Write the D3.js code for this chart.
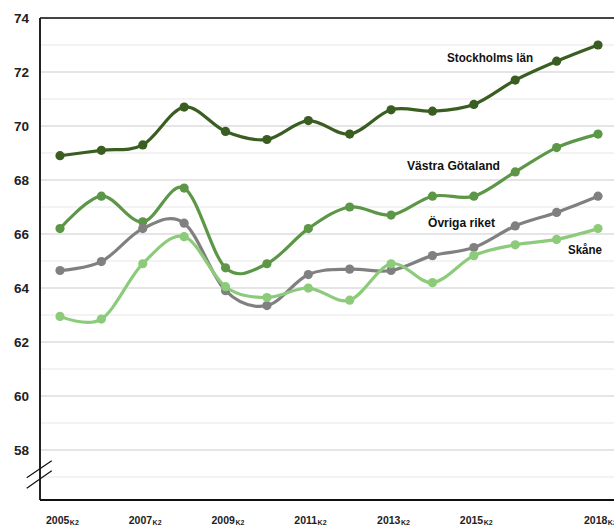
<!DOCTYPE html>
<html><head><meta charset="utf-8">
<script src="https://cdn.jsdelivr.net/npm/d3@7"></script>
<style>html,body{margin:0;padding:0;background:#fff;}svg{display:block;}</style>
</head><body><svg id="c" width="614" height="527"></svg>
<script>
const years = ["2005","2006","2007","2008","2009","2010","2011","2012","2013","2014","2015","2016","2017","2018"];
const tickYears = ["2005","2007","2009","2011","2013","2015","2018"];
const yTicks = [58,60,62,64,66,68,70,72,74];
const stockholm = [68.9,69.1,69.3,70.7,69.8,69.5,70.2,69.7,70.6,70.55,70.8,71.7,72.4,73.0];
const vastra = [66.2,67.4,66.45,67.7,64.75,64.9,66.2,67.0,66.7,67.4,67.4,68.3,69.2,69.7];
const ovriga = [64.65,64.98,66.2,66.4,63.9,63.35,64.5,64.7,64.65,65.2,65.5,66.3,66.8,67.4];
const skane = [62.95,62.85,64.9,65.9,64.05,63.65,64.0,63.55,64.9,64.2,65.2,65.6,65.8,66.2];
const seriesNames = ["Stockholms län","Västra Götaland","Övriga riket","Skåne"];

const series = [
  {name: seriesNames[0], values: stockholm, color: "#3a5e22"},
  {name: seriesNames[1], values: vastra, color: "#5b9746"},
  {name: seriesNames[2], values: ovriga, color: "#808080"},
  {name: seriesNames[3], values: skane, color: "#8ccb79"}
];

const svg = d3.select("#c");
const x = d3.scalePoint().domain(years).range([39.3, 618.7]).padding(0.5);
const y = d3.scaleLinear().domain([56.15, 74]).range([500, 18]);
const font = "'Liberation Sans', Arial, sans-serif";

// gridlines
const grid = d3.range(57, 74, 1);
svg.append("g").selectAll("line").data(grid).join("line")
  .attr("x1", 40).attr("x2", 614)
  .attr("y1", d => y(d)).attr("y2", d => y(d))
  .attr("stroke", d => d % 2 === 0 ? "#dcdcdc" : "#efefef")
  .attr("stroke-width", 1.5);
svg.append("line").attr("x1", 40).attr("x2", 614).attr("y1", y(74)).attr("y2", y(74))
  .attr("stroke", "#444").attr("stroke-width", 2);

// axes lines
svg.append("line").attr("x1", 40).attr("x2", 40).attr("y1", y(74)).attr("y2", 500)
  .attr("stroke", "#222").attr("stroke-width", 2);
svg.append("line").attr("x1", 40).attr("x2", 614).attr("y1", 500).attr("y2", 500)
  .attr("stroke", "#111").attr("stroke-width", 2);

// axis break
[[477.7,460.7],[488.3,470.7]].forEach(p => {
  svg.append("line").attr("x1", 26.7).attr("y1", p[0]).attr("x2", 51.7).attr("y2", p[1])
    .attr("stroke", "#111").attr("stroke-width", 1.2);
});

// y labels
svg.append("g").selectAll("text").data(yTicks).join("text")
  .attr("x", 29).attr("y", d => y(d)).attr("dy", "0.36em")
  .attr("text-anchor", "end")
  .attr("font-family", font).attr("font-weight", "bold").attr("font-size", 13.5)
  .attr("fill", "#222").text(d => d);

// x labels
const xl = svg.append("g").selectAll("text").data(tickYears).join("text")
  .attr("x", d => x(d) - 14).attr("y", 523.5)
  .attr("text-anchor", "start")
  .attr("font-family", font).attr("font-weight", "bold").attr("font-size", 10.5)
  .attr("fill", "#222");
xl.append("tspan").text(d => d);
xl.append("tspan").attr("font-size", 7).attr("dy", 1.5).attr("dx", 0.5).text("K2");

// lines
const line = d3.line().x((d, i) => x(years[i])).y(d => y(d)).curve(d3.curveCardinal.tension(0));
const g = svg.append("g");
series.forEach(s => {
  g.append("path").datum(s.values).attr("d", line)
    .attr("fill", "none").attr("stroke", s.color).attr("stroke-width", 3.2)
    .attr("stroke-linejoin", "round").attr("stroke-linecap", "round");
  g.append("g").selectAll("circle").data(s.values).join("circle")
    .attr("cx", (d, i) => x(years[i])).attr("cy", d => y(d)).attr("r", 4.6)
    .attr("fill", s.color);
});

// series labels
const labelPos = [[447, 57.7],[407, 165],[428, 222.7],[568, 249]];
const labelW = [86, 93, 67, 34];
svg.append("g").selectAll("text").data(seriesNames).join("text")
  .attr("x", (d, i) => labelPos[i][0]).attr("y", (d, i) => labelPos[i][1]).attr("dy", "0.36em")
  .attr("text-anchor", "start")
  .attr("textLength", (d, i) => labelW[i]).attr("lengthAdjust", "spacingAndGlyphs")
  .attr("font-family", font).attr("font-weight", "bold").attr("font-size", 12.5)
  .attr("fill", "#111").text(d => d);
</script></body></html>
